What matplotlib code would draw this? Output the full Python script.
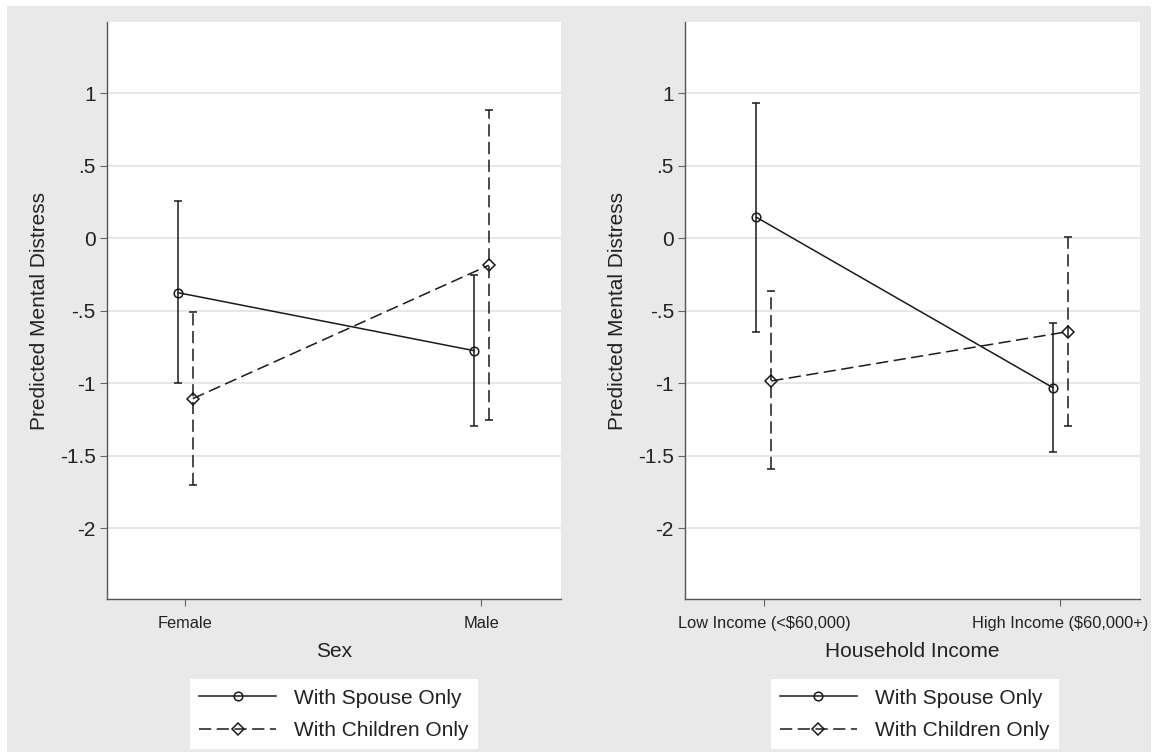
import numpy as np
import matplotlib
matplotlib.use("Agg")
import matplotlib.pyplot as plt
from matplotlib.patches import Rectangle
from matplotlib.lines import Line2D

plt.rcParams['font.family'] = ['Liberation Sans', 'DejaVu Sans']

# Predicted values and 95% CIs
sex_levels = ['Female', 'Male']
sex_spouse = [-0.375, -0.775]
sex_spouse_lo = [-0.996, -1.294]
sex_spouse_hi = [0.255, -0.255]
sex_children = [-1.106, -0.186]
sex_children_lo = [-1.700, -1.251]
sex_children_hi = [-0.508, 0.885]

inc_levels = [r'Low Income (<\$60,000)', r'High Income (\$60,000+)']
inc_spouse = [0.145, -1.030]
inc_spouse_lo = [-0.644, -1.476]
inc_spouse_hi = [0.931, -0.586]
inc_children = [-0.984, -0.644]
inc_children_lo = [-1.589, -1.294]
inc_children_hi = [-0.363, 0.011]

yticks = [1, 0.5, 0, -0.5, -1, -1.5, -2]
ytick_labels = ['1', '.5', '0', '-.5', '-1', '-1.5', '-2']

ink = '#1a1a1a'
dash = (0, (8, 3.6))
lw = 1.1

fig = plt.figure(figsize=(11.53, 7.52), dpi=100)
fig.patch.set_facecolor('white')
fig.add_artist(Rectangle((0.0061, 0), 0.9922, 0.992, transform=fig.transFigure,
                         facecolor='#e9e9e9', edgecolor='none', zorder=-10))


def panel(rect, levels, xlabel, sp, sp_lo, sp_hi, ch, ch_lo, ch_hi, legend_x):
    ax = fig.add_axes(rect)
    ax.set_facecolor('white')
    x = np.arange(len(levels))
    off = 0.025
    series = [
        (x - off, sp, sp_lo, sp_hi, '-', 'o', 6.2),
        (x + off, ch, ch_lo, ch_hi, dash, 'D', 6.0),
    ]
    for xs, y, lo, hi, ls, mk, ms in series:
        y = np.array(y)
        err = [y - np.array(lo), np.array(hi) - y]
        _, caps, bars = ax.errorbar(xs, y, yerr=err, fmt='none', ecolor=ink,
                                    elinewidth=lw, capsize=2.9, capthick=lw, zorder=2)
        bars[0].set_linestyle(ls)
        ax.plot(xs, y, color=ink, lw=lw, linestyle=ls, marker=mk, ms=ms,
                mfc='none', mec=ink, mew=lw, zorder=3)

    ax.set_xlim(-0.266, 1.268)
    ax.set_ylim(-2.49, 1.494)
    ax.set_xticks(x)
    ax.set_xticklabels(levels, fontsize=11.8, color='#222222')
    ax.set_yticks(yticks)
    ax.set_yticklabels(ytick_labels, fontsize=15, color='#222222')
    ax.tick_params(axis='both', length=5, width=0.8, color='#666666')
    ax.tick_params(axis='x', pad=7)
    ax.tick_params(axis='y', pad=3)
    ax.grid(axis='y', color='#e3e3e3', lw=1.2)
    ax.set_axisbelow(True)
    for s in ['top', 'right']:
        ax.spines[s].set_visible(False)
    for s in ['left', 'bottom']:
        ax.spines[s].set_color('#555555')
        ax.spines[s].set_linewidth(1.0)
    ax.set_xlabel(xlabel, fontsize=15, color='#222222', labelpad=8)
    ax.set_ylabel('Predicted Mental Distress', fontsize=15, color='#222222', labelpad=8)

    handles = [
        Line2D([], [], color=ink, lw=lw, ls='-', marker='o', ms=6.2, mfc='none', mew=lw),
        Line2D([], [], color=ink, lw=lw, ls=dash, marker='D', ms=6.0, mfc='none', mew=lw),
    ]
    leg = ax.legend(handles, ['With Spouse Only', 'With Children Only'],
                    loc='center', bbox_to_anchor=(legend_x, 0.0501),
                    bbox_transform=fig.transFigure, fontsize=15, frameon=True,
                    fancybox=False, framealpha=1, edgecolor='none', facecolor='white',
                    handlelength=3.7, handletextpad=0.85, numpoints=1,
                    labelspacing=0.65, borderpad=0.45, borderaxespad=0)
    for t in leg.get_texts():
        t.set_color('#222222')
    return ax


panel([0.0925, 0.2031, 0.3938, 0.768], sex_levels, 'Sex',
      sex_spouse, sex_spouse_lo, sex_spouse_hi,
      sex_children, sex_children_lo, sex_children_hi, 0.2894)
panel([0.5941, 0.2031, 0.3944, 0.768], inc_levels, 'Household Income',
      inc_spouse, inc_spouse_lo, inc_spouse_hi,
      inc_children, inc_children_lo, inc_children_hi, 0.7932)

fig.savefig('out.png', dpi=100, facecolor=fig.get_facecolor())
